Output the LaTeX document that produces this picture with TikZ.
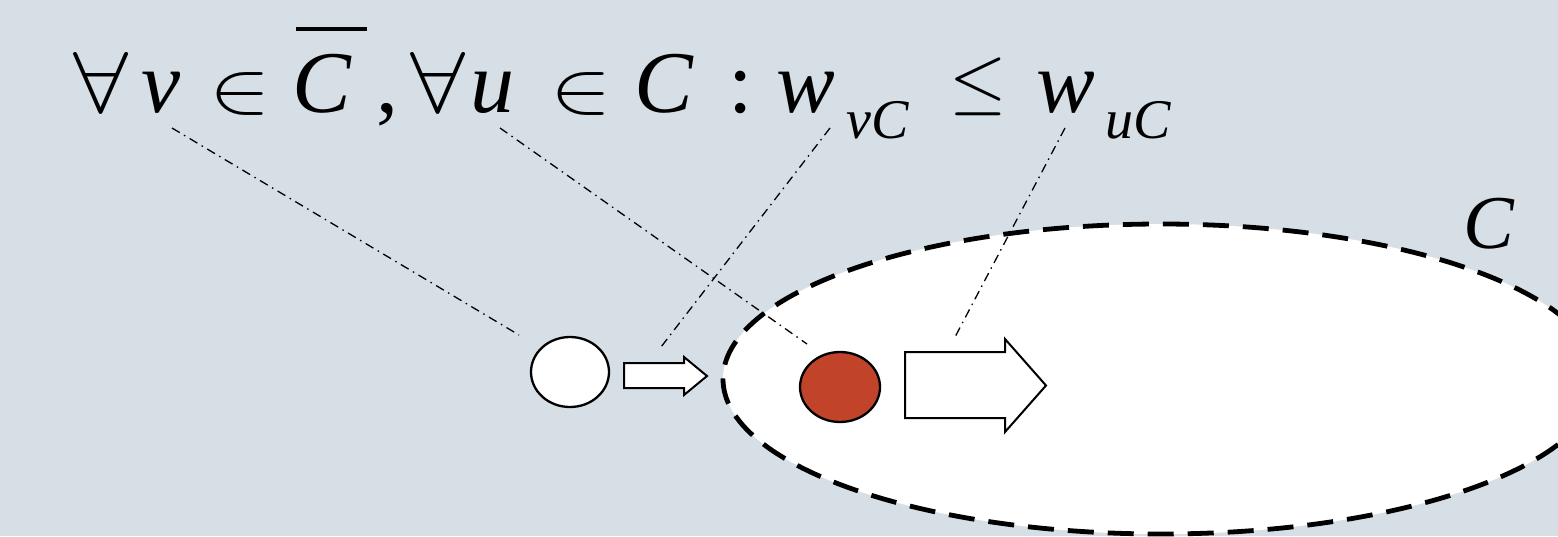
\documentclass[tikz,border=0pt]{standalone}
\usepackage{fontspec}
\setmainfont{Liberation Serif}
\newfontfamily\tmit{Liberation Serif Italic}
\usetikzlibrary{shapes.geometric}
\definecolor{bgcol}{RGB}{214,222,230}
\definecolor{redfill}{RGB}{192,67,42}
\newcommand{\mainfs}{\fontsize{88}{96}\selectfont}
\newcommand{\subfs}{\fontsize{56}{60}\selectfont}
\newcommand{\labfs}{\fontsize{76}{80}\selectfont}
\newcommand{\putat}[2]{\rlap{\hspace*{#1pt}#2}}
\newcommand{\symforall}{\scalebox{9.9}[8.65]{\normalsize$\forall$}}
\newcommand{\symin}{\scalebox{9.2}[7.4]{\normalsize$\in$}}
\newcommand{\symleq}{\raisebox{7pt}{\scalebox{7.4}[7.5]{\normalsize$\leq$}}}
\newcommand{\iv}[1]{{\tmit #1}}
\tikzset{
  dotline/.style={line width=1.3pt, dash pattern=on 9pt off 5pt on 1.5pt off 5pt},
  setline/.style={line width=4.8pt, dash pattern=on 26pt off 14pt, fill=white},
  vertex/.style={ellipse, draw=black, line width=2.3pt, inner sep=0pt},
  fatarrow/.style={draw=black, fill=white, line width=2pt, line join=miter},
}
\begin{document}
\begin{tikzpicture}[x=1pt,y=-1pt]
\useasboundingbox (0,0) rectangle (1558,536);
\fill[bgcol] (0,0) rectangle (1558,536);
\begin{scope}
\clip (0,0) rectangle (1558,536);
\draw[setline] (1161,379) ellipse [x radius=438, y radius=155];
\end{scope}
% text
\node[anchor=base west, inner sep=0pt, font=\mainfs] (formula) at (0,112)
{\putat{73}{\symforall}\putat{141}{\iv{v}}\putat{209}{\symin}\putat{296}{\rule[81pt]{71pt}{4pt}}\putat{292}{\iv{C}}\putat{376}{,}\putat{410}{\symforall}\putat{470}{\iv{u}}\putat{550}{\symin}\putat{634}{\iv{C}}\putat{728}{:}\putat{776}{\iv{w}}\putat{846}{\raisebox{-26pt}{\subfs\iv{vC}}}\putat{949}{\symleq}\putat{1036}{\iv{w}}\putat{1105}{\raisebox{-26pt}{\subfs\iv{uC}}}\hspace*{1170pt}};
\node[anchor=base west, inner sep=0pt, font=\labfs] (setlabel) at (1463,248) {\iv{C}};
% vertices
\node[vertex, fill=white, minimum width=78pt, minimum height=70pt] (vnode) at (570,372) {};
\node[vertex, fill=redfill, minimum width=80pt, minimum height=70pt] (unode) at (840,387) {};
% arrows
\draw[fatarrow] (624,363) -- (684,363) -- (684,357) -- (707,376) -- (684,395) -- (684,388) -- (624,388) -- cycle;
\draw[fatarrow] (905,352) -- (1005,352) -- (1005,339) -- (1046,385.5) -- (1005,432) -- (1005,418) -- (905,418) -- cycle;
% connector ends
\coordinate (vtop) at (172,128);
\coordinate (vbot) at (519,335);
\coordinate (utop) at (500,128);
\coordinate (ubot) at (807,344);
\coordinate (wvtop) at (830,128);
\coordinate (wvbot) at (661,347);
\coordinate (wutop) at (1065,128);
\coordinate (wubot) at (955,337);
\draw[dotline] (vtop) -- (vbot);
\draw[dotline] (utop) -- (ubot);
\draw[dotline] (wvtop) -- (wvbot);
\draw[dotline] (wutop) -- (wubot);
\end{tikzpicture}
\end{document}
